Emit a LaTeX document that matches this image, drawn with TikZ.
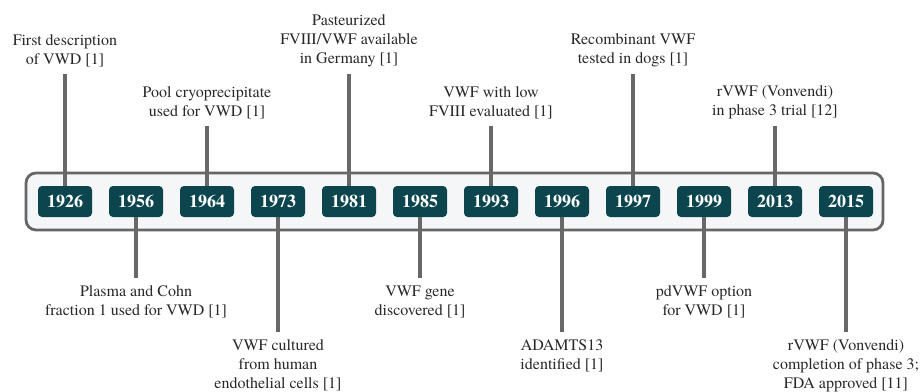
\documentclass[tikz,border=0pt]{standalone}
\usepackage{fontspec}
\setmainfont{texgyretermes}[Extension=.otf, UprightFont=*-regular, BoldFont=*-bold, ItalicFont=*-italic, BoldItalicFont=*-bolditalic]
\definecolor{boxc}{RGB}{12,69,77}
\definecolor{framec}{RGB}{102,102,102}
\definecolor{linec}{RGB}{104,104,104}
\definecolor{framebg}{RGB}{245,246,248}
\definecolor{txtc}{RGB}{40,40,40}
\tikzset{
  yearbox/.style={fill=boxc, rounded corners=4pt, minimum width=54pt, minimum height=31pt,
    inner sep=0pt, text=white, font=\fontsize{18}{20}\selectfont\bfseries},
  lbl/.style={align=center, inner sep=0pt, outer ysep=7.5pt, text=txtc,
    font=\fontsize{16}{19}\selectfont},
  conn/.style={draw=linec, line width=3.4pt},
  frame/.style={draw=framec, fill=framebg, line width=2.8pt, rounded corners=10pt}
}
\begin{document}
\begin{tikzpicture}[x=1pt,y=-1pt]
\useasboundingbox (0,0) rectangle (920,391);
\node[frame, minimum width=857pt, minimum height=57pt] (frame) at (454.5,201.5) {};
\foreach \yr [count=\i from 0] in {1926,1956,1964,1973,1981,1985,1993,1996,1997,1999,2013,2015}
  \node[yearbox] (y\yr) at ({65+71*\i},201.5) {\yr};
% top labels
\node[lbl, anchor=south] (l1926) at (65,74) {First description\\of VWD [1]};
\node[lbl, anchor=south] (l1964) at (207,126) {Pool cryoprecipitate\\used for VWD [1]};
\node[lbl, anchor=south] (l1981) at (349,74) {Pasteurized\\FVIII/VWF available\\in Germany [1]};
\node[lbl, anchor=south] (l1993) at (491,126) {VWF with low\\FVIII evaluated [1]};
\node[lbl, anchor=south] (l1997) at (633,74) {Recombinant VWF\\tested in dogs [1]};
\node[lbl, anchor=south] (l2013) at (775,126) {rVWF (Vonvendi)\\in phase 3 trial [12]};
% bottom labels
\node[lbl, anchor=north] (l1956) at (136,278) {Plasma and Cohn\\fraction 1 used for VWD [1]};
\node[lbl, anchor=north] (l1973) at (278,332) {VWF cultured\\from human\\endothelial cells [1]};
\node[lbl, anchor=north] (l1985) at (420,278) {VWF gene\\discovered [1]};
\node[lbl, anchor=north] (l1996) at (562,332) {ADAMTS13\\identified [1]};
\node[lbl, anchor=north] (l1999) at (704,278) {pdVWF option\\for VWD [1]};
\node[lbl, anchor=north] (l2015) at (846,332) {rVWF (Vonvendi)\\completion of phase 3;\\FDA approved [11]};
% connectors
\foreach \yr in {1926,1964,1981,1993,1997,2013}
  \draw[conn] (y\yr.north) -- (l\yr.south);
\foreach \yr in {1956,1973,1985,1996,1999,2015}
  \draw[conn] (y\yr.south) -- (l\yr.north);
\end{tikzpicture}
\end{document}
